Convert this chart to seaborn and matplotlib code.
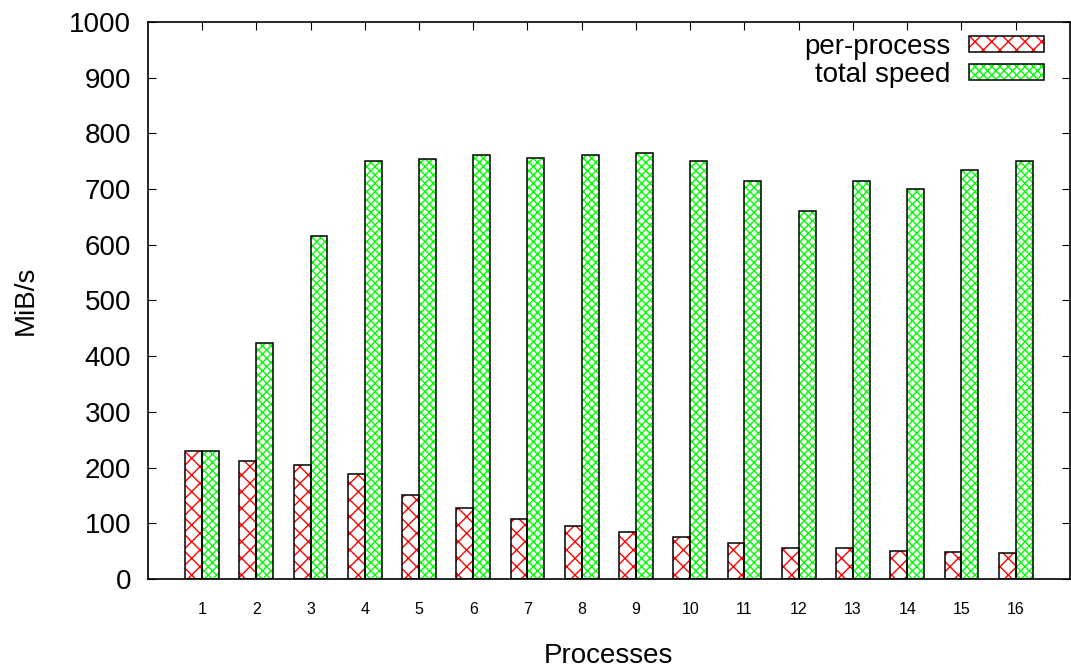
import matplotlib
matplotlib.use("Agg")
import matplotlib.pyplot as plt
import seaborn as sns
import pandas as pd
from matplotlib.patches import Patch
from matplotlib.legend_handler import HandlerTuple

processes = [str(i) for i in range(1, 17)]
per_process = [230, 212, 205, 188, 150, 127, 108, 95, 85, 75, 64, 55, 55, 50, 48, 47]
total_speed = [230, 424, 615, 751, 755, 762, 756, 761, 765, 750, 715, 661, 715, 700, 735, 751]
series_names = ["per-process", "total speed"]
y_ticks = list(range(0, 1001, 100))

df = pd.DataFrame({
    "Processes": processes * 2,
    "series": [series_names[0]] * 16 + [series_names[1]] * 16,
    "value": per_process + total_speed,
})

sns.set_style("white")
plt.rcParams["font.family"] = ["Liberation Sans", "DejaVu Sans"]
plt.rcParams["hatch.linewidth"] = 1.0
for k in ["text.color", "axes.labelcolor", "xtick.color", "ytick.color"]:
    plt.rcParams[k] = "black"

fig = plt.figure(figsize=(10.71, 6.70), dpi=100)
ax = fig.add_axes([0.138, 0.136, 0.861, 0.831])

hatch_colors = {"per-process": "#ff0000", "total speed": "#00ff00"}
hatches = {"per-process": "xx", "total speed": "xxxx"}

# hatched fill layer
sns.barplot(data=df, x="Processes", y="value", hue="series", order=processes,
            hue_order=series_names, palette={"per-process": "white", "total speed": "white"},
            width=0.62, dodge=True, legend=False, ax=ax, errorbar=None, saturation=1)
n = len(processes)
for i, p in enumerate(list(ax.patches)):
    s = series_names[i // n]
    p.set_hatch(hatches[s])
    p.set_edgecolor(hatch_colors[s])
    p.set_facecolor("white")
    p.set_linewidth(0)

# outline layer
sns.barplot(data=df, x="Processes", y="value", hue="series", order=processes,
            hue_order=series_names, palette={"per-process": "black", "total speed": "black"},
            width=0.62, dodge=True, legend=False, ax=ax, errorbar=None, fill=False,
            linewidth=1.1, saturation=1)

ax.set_xlim(-1, 16)
ax.set_ylim(0, 1000)
ax.set_yticks(y_ticks)
ax.set_yticklabels([str(v) for v in y_ticks], fontsize=20)
ax.tick_params(axis="x", labelsize=11.5, direction="in", top=True, bottom=True, length=6, pad=17)
ax.tick_params(axis="y", direction="in", left=True, right=True, length=6, pad=12)
ax.set_xlabel("Processes", fontsize=20, labelpad=18.5)
ax.set_ylabel("MiB/s", fontsize=20, labelpad=22)
for sp in ax.spines.values():
    sp.set_color("black")
    sp.set_linewidth(1.2)

handles = []
for s in series_names:
    h1 = Patch(facecolor="white", edgecolor=hatch_colors[s], hatch=hatches[s], linewidth=0)
    h2 = Patch(facecolor="none", edgecolor="black", linewidth=1.1)
    handles.append((h1, h2))
ax.legend(handles, series_names, handler_map={tuple: HandlerTuple(ndivide=1, pad=0)},
          loc="upper right", bbox_to_anchor=(0.972, 0.979), frameon=False, fontsize=20,
          markerfirst=False, handlelength=2.7, handleheight=0.5, labelspacing=0.08,
          handletextpad=0.68, borderaxespad=0, borderpad=0)

fig.savefig("out.png", dpi=100)
